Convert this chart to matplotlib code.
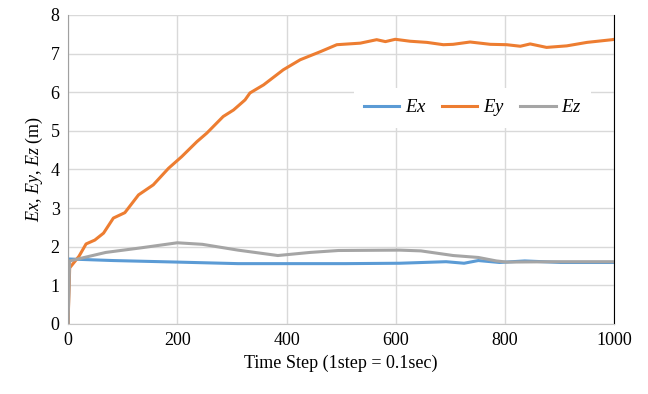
import matplotlib.pyplot as plt

plt.rcParams['font.family'] = ['Liberation Serif', 'DejaVu Serif']
plt.rcParams['mathtext.fontset'] = 'custom'
plt.rcParams['mathtext.it'] = 'Liberation Serif:italic'
plt.rcParams['mathtext.rm'] = 'Liberation Serif'

# time steps and series
t_x = [0, 2, 82, 200, 311, 397, 508, 607, 692, 725, 751, 790, 836, 902, 1000]
ex = [0, 1.68, 1.64, 1.60, 1.56, 1.56, 1.56, 1.57, 1.61, 1.57, 1.64, 1.59, 1.63, 1.59, 1.59]

t_y = [0, 3, 20, 33, 49, 65, 83, 104, 129, 156, 184, 208, 236, 254, 284, 303, 324,
       333, 358, 394, 425, 462, 492, 535, 565, 581, 599, 626, 657, 687, 705, 736,
       773, 803, 828, 846, 876, 913, 950, 996, 1000]
ey = [0, 1.45, 1.75, 2.07, 2.17, 2.35, 2.74, 2.88, 3.34, 3.60, 4.03, 4.33, 4.72, 4.94,
      5.37, 5.54, 5.80, 5.98, 6.19, 6.58, 6.84, 7.05, 7.23, 7.27, 7.36, 7.31, 7.37,
      7.32, 7.29, 7.23, 7.24, 7.30, 7.24, 7.23, 7.19, 7.25, 7.16, 7.20, 7.29, 7.36, 7.37]

t_z = [0, 3, 69, 134, 200, 246, 311, 384, 443, 495, 607, 646, 705, 751, 784, 803, 900, 1000]
ez = [0, 1.63, 1.85, 1.97, 2.10, 2.06, 1.91, 1.77, 1.85, 1.90, 1.91, 1.89, 1.77,
      1.72, 1.63, 1.60, 1.61, 1.61]

fig, ax = plt.subplots(figsize=(6.48, 3.94), dpi=100)
fig.subplots_adjust(left=0.105, right=0.948, top=0.962, bottom=0.178)

ax.plot(t_x, ex, color='#5b9bd5', lw=2.2, label='$Ex$')
ax.plot(t_y, ey, color='#ed7d31', lw=2.2, label='$Ey$')
ax.plot(t_z, ez, color='#a5a5a5', lw=2.2, label='$Ez$')

ax.set_xlim(0, 1000)
ax.set_ylim(0, 8)
ax.set_xticks(range(0, 1001, 200))
ax.set_yticks(range(0, 9))
ax.grid(color='#d9d9d9', lw=1)
ax.set_axisbelow(True)
ax.tick_params(length=0, labelsize=13, pad=6)

ax.spines['top'].set_visible(False)
ax.spines['left'].set_color('#a0a0a0')
ax.spines['bottom'].set_color('#c8c8c8')
ax.spines['right'].set_color('black')

ax.set_xlabel('Time Step (1step = 0.1sec)', fontsize=13)
ax.set_ylabel('$Ex$, $Ey$, $Ez$ (m)', fontsize=13)

ax.legend(loc='center right', bbox_to_anchor=(0.975, 0.70), ncol=3, frameon=True,
          fancybox=False, edgecolor='none', facecolor='white', framealpha=1,
          fontsize=13.5, handlelength=1.9, columnspacing=0.8, handletextpad=0.3,
          borderpad=0.5)

plt.savefig('out.png', dpi=100)
plt.close()
